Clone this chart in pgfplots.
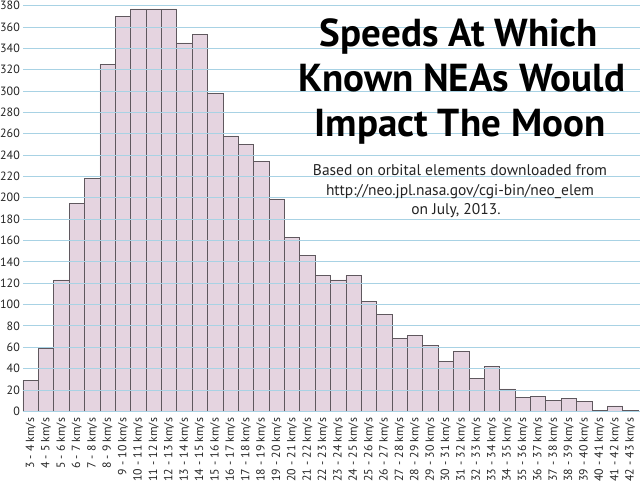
\documentclass[border=0pt]{standalone}
\usepackage{fontspec}
\setmainfont{PT Sans}
\usepackage{pgfplots}
\pgfplotsset{compat=1.18}
\definecolor{barfill}{RGB}{229,212,224}
\definecolor{baredge}{RGB}{95,88,94}
\definecolor{gridblue}{RGB}{168,210,228}
\definecolor{labelgray}{RGB}{35,35,35}
\begin{document}
\begin{tikzpicture}
\useasboundingbox (0,0) rectangle (640pt,482pt);
\begin{axis}[
  at={(23pt,70.7pt)}, anchor=south west,
  scale only axis, width=617pt, height=411pt,
  xmin=-0.5, xmax=39.63, ymin=0, ymax=385,
  ybar, bar width=1, bar shift=0pt,
  axis on top,
  axis line style={draw=none},
  major tick length=0pt,
  ymajorgrids, grid style={gridblue, line width=0.8pt},
  ytick={0,20,...,380},
  xtick={0,...,39},
  xticklabels={3 - 4 km/s,4 - 5 km/s,5 - 6 km/s,6 - 7 km/s,7 - 8 km/s,8 - 9 km/s,9 - 10 km/s,10 - 11 km/s,11 - 12 km/s,12 - 13 km/s,13 - 14 km/s,14 - 15 km/s,15 - 16 km/s,16 - 17 km/s,17 - 18 km/s,18 - 19 km/s,19 - 20 km/s,20 - 21 km/s,21 - 22 km/s,22 - 23 km/s,23 - 24 km/s,24 - 25 km/s,25 - 26 km/s,26 - 27 km/s,27 - 28 km/s,28 - 29 km/s,29 - 30 km/s,30 - 31 km/s,31 - 32 km/s,32 - 33 km/s,33 - 34 km/s,34 - 35 km/s,35 - 36 km/s,36 - 37 km/s,37 - 38 km/s,38 - 39 km/s,39 - 40 km/s,40 - 41 km/s,41 - 42 km/s,42 - 43 km/s},
  xticklabel style={rotate=90, anchor=east, inner sep=0pt, xshift=-6.4pt, font=\fontsize{11.8}{11.8}\selectfont, text=labelgray},
  yticklabel style={anchor=east, inner sep=0pt, xshift=-3pt, font=\fontsize{12}{12}\selectfont, text=labelgray},
  /pgf/number format/assume math mode=true,
]
\addplot[fill=barfill, draw=baredge, line width=0.6pt] coordinates {
(0,29) (1,59) (2,123) (3,195) (4,218) (5,325) (6,370) (7,377) (8,377) (9,377)
(10,345) (11,353) (12,298) (13,258) (14,250) (15,234) (16,199) (17,163) (18,146) (19,127)
(20,123) (21,127) (22,103) (23,91) (24,68) (25,71) (26,62) (27,47) (28,56) (29,31)
(30,42) (31,21) (32,13) (33,14) (34,10) (35,12) (36,9) (37,1) (38,5) (39,1)
};
\end{axis}
\begin{scope}[every node/.style={anchor=base, inner sep=0pt, font=\fontsize{39}{39}\selectfont\bfseries}]
\node at (459pt,435pt) {Speeds At Which};
\node at (462pt,390pt) {Known NEAs Would};
\node at (460pt,345pt) {Impact The Moon};
\end{scope}
\begin{scope}[every node/.style={anchor=base, inner sep=0pt, font=\fontsize{15.5}{15.5}\selectfont, text=labelgray}]
\node at (460pt,306pt) {Based on orbital elements downloaded from};
\node at (460pt,286.3pt) {http://neo.jpl.nasa.gov/cgi-bin/neo\_elem};
\node at (456pt,267pt) {on July, 2013.};
\end{scope}
\end{tikzpicture}
\end{document}
